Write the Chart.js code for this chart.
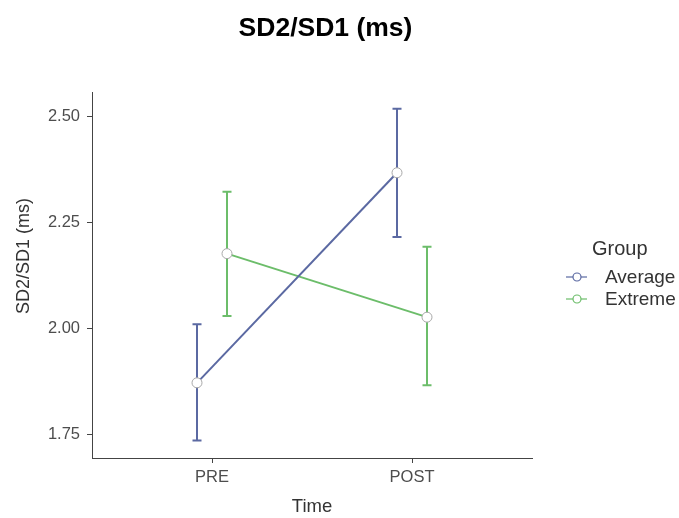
<!DOCTYPE html>
<html><head><meta charset="utf-8">
<script src="https://cdn.jsdelivr.net/npm/chart.js@4"></script>
<style>html,body{margin:0;padding:0;background:#fff}#wrap{width:679px;height:518px}</style>
</head><body><div id="wrap"><canvas id="c" width="679" height="518"></canvas></div>
<script>
const chartTitle = 'SD2/SD1 (ms)';
const xTitle = 'Time';
const yTitle = 'SD2/SD1 (ms)';
const legendTitle = 'Group';
const categories = ['PRE', 'POST'];
const groups = ['Average', 'Extreme'];
const averageMean  = [1.872, 2.368];
const averageLower = [1.736, 2.216];
const averageUpper = [2.010, 2.519];
const extremeMean  = [2.177, 2.027];
const extremeLower = [2.030, 1.866];
const extremeUpper = [2.323, 2.193];
const yTicks = [1.75, 2.00, 2.25, 2.50];

const groupColors = ['#5b69a2', '#6cbd6a'];
const dodge = [-0.075, 0.075];
const FONT = '"Liberation Sans", Arial, Helvetica, sans-serif';

const series = [
  {mean: averageMean, lo: averageLower, hi: averageUpper},
  {mean: extremeMean, lo: extremeLower, hi: extremeUpper}
];

const datasets = groups.map((g, gi) => ({
  label: g,
  data: categories.map((c, i) => ({
    x: i + 1 + dodge[gi],
    y: series[gi].mean[i],
    lo: series[gi].lo[i],
    hi: series[gi].hi[i]
  })),
  borderColor: groupColors[gi],
  borderWidth: 2,
  pointRadius: 5,
  pointHoverRadius: 5,
  pointBackgroundColor: '#ffffff',
  pointBorderColor: '#a8a8a8',
  pointBorderWidth: 1,
  fill: false,
  tension: 0,
  clip: false
}));

const errorBars = {
  id: 'errorBars',
  beforeDatasetsDraw(chart) {
    const {ctx, scales: {x, y}} = chart;
    chart.data.datasets.forEach(ds => {
      ctx.save();
      ctx.strokeStyle = ds.borderColor;
      ctx.lineWidth = 2;
      ds.data.forEach(p => {
        const px = x.getPixelForValue(p.x);
        const top = y.getPixelForValue(p.hi);
        const bot = y.getPixelForValue(p.lo);
        ctx.beginPath();
        ctx.moveTo(px, top); ctx.lineTo(px, bot);
        ctx.moveTo(px - 4.5, top); ctx.lineTo(px + 4.5, top);
        ctx.moveTo(px - 4.5, bot); ctx.lineTo(px + 4.5, bot);
        ctx.stroke();
      });
      ctx.restore();
    });
  }
};

const annotations = {
  id: 'annotations',
  afterDraw(chart) {
    const ctx = chart.ctx;
    ctx.save();
    ctx.fillStyle = '#000';
    ctx.textAlign = 'center';
    ctx.textBaseline = 'alphabetic';
    ctx.font = 'bold 26.5px ' + FONT;
    ctx.fillText(chartTitle, 325.5, 36);

    // y axis title
    ctx.save();
    ctx.translate(24, 256);
    ctx.rotate(-Math.PI / 2);
    ctx.fillStyle = '#333';
    ctx.font = '18px ' + FONT;
    ctx.textBaseline = 'middle';
    ctx.fillText(yTitle, 0, 0);
    ctx.restore();

    ctx.textAlign = 'left';
    ctx.fillStyle = '#333';
    ctx.font = '20px ' + FONT;
    ctx.fillText(legendTitle, 592, 255);
    ctx.font = '19px ' + FONT;
    chart.data.datasets.forEach((ds, i) => {
      const cy = 277 + i * 22;
      ctx.strokeStyle = ds.borderColor;
      ctx.lineWidth = 1.2;
      ctx.beginPath(); ctx.moveTo(566, cy); ctx.lineTo(587, cy); ctx.stroke();
      ctx.beginPath(); ctx.arc(577, cy, 4, 0, Math.PI * 2);
      ctx.fillStyle = '#fff'; ctx.fill(); ctx.stroke();
      ctx.fillStyle = '#333';
      ctx.textBaseline = 'middle';
      ctx.fillText(ds.label, 605, cy + 1);
    });
    ctx.restore();
  }
};

new Chart(document.getElementById('c'), {
  type: 'line',
  data: {datasets},
  plugins: [errorBars, annotations],
  options: {
    responsive: false,
    animation: false,
    devicePixelRatio: 1,
    layout: {padding: {top: 92, left: 0, right: 147, bottom: 0}},
    plugins: {legend: {display: false}, title: {display: false}, tooltip: {enabled: false}},
    scales: {
      x: {
        type: 'linear', min: 0.4, max: 2.6,
        afterBuildTicks: s => { s.ticks = categories.map((c, i) => ({value: i + 1})); },
        afterFit: s => { s.height = 60; },
        ticks: {callback: v => categories[Math.round(v) - 1], font: {family: FONT, size: 16.5}, color: '#4d4d4d', padding: 5, autoSkip: false, maxRotation: 0},
        grid: {drawOnChartArea: false, drawTicks: true, tickLength: 5, color: '#444', lineWidth: 1},
        border: {display: true, color: '#444', width: 1},
        title: {display: true, text: xTitle, font: {family: FONT, size: 18.5}, color: '#333', padding: 0}
      },
      y: {
        min: 1.6945, max: 2.5586,
        afterBuildTicks: s => { s.ticks = yTicks.map(v => ({value: v})); },
        afterFit: s => { s.width = 92; },
        ticks: {callback: v => Number(v).toFixed(2), font: {family: FONT, size: 16.5}, color: '#4d4d4d', padding: 7},
        grid: {drawOnChartArea: false, drawTicks: true, tickLength: 5, color: '#444', lineWidth: 1},
        border: {display: true, color: '#444', width: 1},
        title: {display: false}
      }
    }
  }
});
</script></body></html>
